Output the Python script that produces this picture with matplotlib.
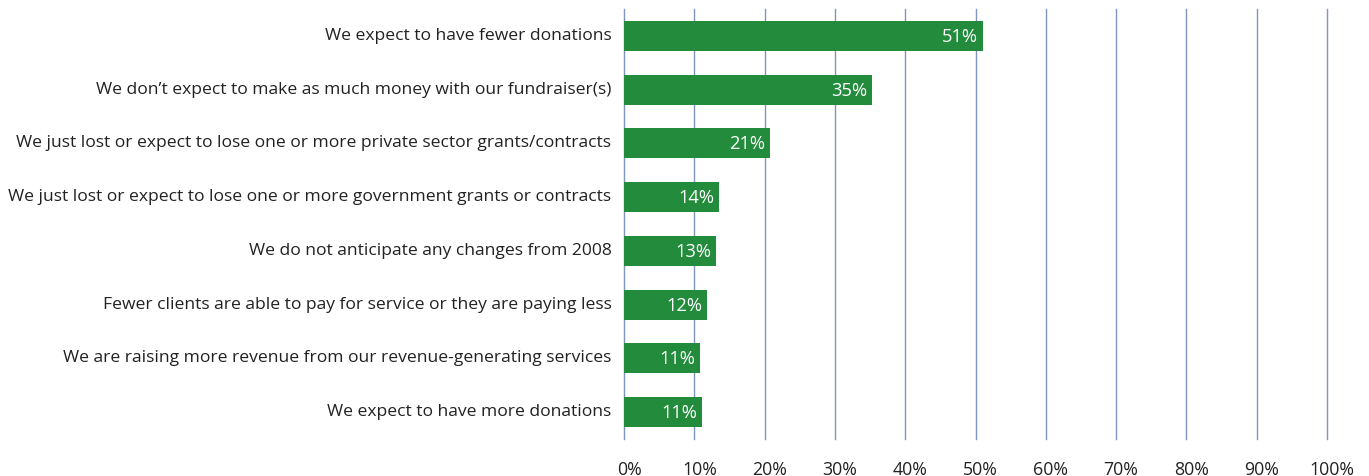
import matplotlib
matplotlib.use("Agg")
import matplotlib.pyplot as plt
import matplotlib.transforms as mtransforms

categories = [
    "We expect to have fewer donations",
    "We don\u2019t expect to make as much money with our fundraiser(s)",
    "We just lost or expect to lose one or more private sector grants/contracts",
    "We just lost or expect to lose one or more government grants or contracts",
    "We do not anticipate any changes from 2008",
    "Fewer clients are able to pay for service or they are paying less",
    "We are raising more revenue from our revenue-generating services",
    "We expect to have more donations",
]
values = [51.1, 35.3, 20.8, 13.5, 13.1, 11.8, 10.8, 11.1]
xticks = [0, 10, 20, 30, 40, 50, 60, 70, 80, 90, 100]
xticklabels = ["0%", "10%", "20%", "30%", "40%", "50%", "60%", "70%", "80%", "90%", "100%"]

plt.rcParams['font.family'] = ['Open Sans', 'DejaVu Sans']

fig = plt.figure(figsize=(13.69, 4.77), dpi=100)
ax = fig.add_axes([624/1369, 1-440/477, (1327-624)/1369, 430/477])

ypos = list(range(len(categories)))
ax.barh(ypos, values, height=0.56, color="#238B3C", zorder=3)
for y, v in zip(ypos, values):
    ax.text(v - 0.7, y, f"{round(v):d}%", color="white", ha="right", va="center",
            fontsize=13.2, zorder=4)

ax.set_xlim(0, 100)
ax.set_ylim(len(categories) - 0.5, -0.5)
ax.set_xticks(xticks)
ax.set_xticklabels(xticklabels, fontsize=12.8, color="#222222")
ax.set_yticks(ypos)
ax.set_yticklabels(categories, fontsize=12.6, color="#222222")
ax.tick_params(axis="x", length=0, pad=15)
ax.tick_params(axis="y", length=0, pad=9)
xoff = mtransforms.ScaledTranslation(5/100, 0, fig.dpi_scale_trans)
for lab in ax.get_xticklabels():
    lab.set_transform(lab.get_transform() + xoff)
yoff = mtransforms.ScaledTranslation(0, 3/100, fig.dpi_scale_trans)
for lab in ax.get_yticklabels():
    lab.set_transform(lab.get_transform() + yoff)
for s in ax.spines.values():
    s.set_visible(False)
ax.grid(axis="x", color="#7F96C0", linewidth=1.0, zorder=0)
ax.grid(axis="y", visible=False)
for gl in ax.get_xgridlines():
    gl.set_clip_on(False)
ax.set_axisbelow(True)

fig.savefig("out.png", dpi=100)
